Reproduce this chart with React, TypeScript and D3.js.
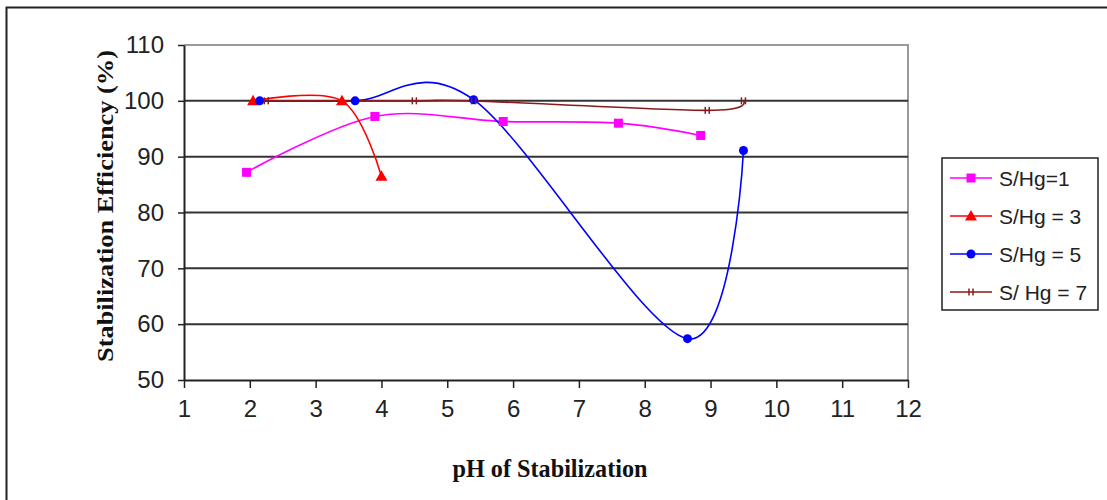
import React, {useEffect, useRef} from "react";
import * as d3 from "d3";

// S/Hg = 1
const ph1 = [1.95, 3.9, 5.85, 7.6, 8.85];
const eff1 = [87.2, 97.2, 96.3, 96.0, 93.8];
// S/Hg = 3
const ph3 = [2.05, 3.4, 4.0];
const eff3 = [100, 100, 86.5];
// S/Hg = 5
const ph5 = [2.15, 3.6, 5.4, 8.65, 9.5];
const eff5 = [100, 100, 100.2, 57.4, 91.1];
// S/Hg = 7
const ph7 = [2.25, 4.5, 5.4, 8.95, 9.5];
const eff7 = [100, 100, 100, 98.3, 100];

const seriesNames = ["S/Hg=1", "S/Hg = 3", "S/Hg = 5", "S/ Hg = 7"];
const seriesColors = ["#ff00ff", "#ff0000", "#0000ff", "#8b1a1a"];
const seriesMarkers = ["square", "triangle", "circle", "bars"];

const xTicks = [1, 2, 3, 4, 5, 6, 7, 8, 9, 10, 11, 12];
const yTicks = [50, 60, 70, 80, 90, 100, 110];

const W = 1107;
const H = 500;
const PLOT = {left: 184, right: 908, top: 45, bottom: 380};

function drawMarker(g: any, kind: string, color: string, x: number, y: number) {
  if (kind === "square") {
    g.append("rect").attr("x", x - 4.5).attr("y", y - 4.5).attr("width", 9).attr("height", 9).attr("fill", color);
  } else if (kind === "triangle") {
    g.append("path").attr("d", `M${x},${y - 6}L${x + 6},${y + 4.5}L${x - 6},${y + 4.5}Z`).attr("fill", color);
  } else if (kind === "circle") {
    g.append("circle").attr("cx", x).attr("cy", y).attr("r", 4.5).attr("fill", color);
  } else {
    g.append("line").attr("x1", x - 2).attr("x2", x - 2).attr("y1", y - 3.5).attr("y2", y + 3.5).attr("stroke", color).attr("stroke-width", 1.5);
    g.append("line").attr("x1", x + 2).attr("x2", x + 2).attr("y1", y - 3.5).attr("y2", y + 3.5).attr("stroke", color).attr("stroke-width", 1.5);
  }
}

const Chart = () => {
  const ref = useRef(null);

  useEffect(() => {
    const svg = d3.select(ref.current);
    svg.selectAll("*").remove();

    const x = d3.scaleLinear().domain([1, 12]).range([PLOT.left, PLOT.right]);
    const y = d3.scaleLinear().domain([50, 110]).range([PLOT.bottom, PLOT.top]);

    // outer frame
    svg.append("rect").attr("x", 6.5).attr("y", 7.5).attr("width", W).attr("height", H)
      .attr("fill", "white").attr("stroke", "#222").attr("stroke-width", 2);

    // plot border (top / right)
    svg.append("path")
      .attr("d", `M${PLOT.left},${PLOT.top}H${PLOT.right}V${PLOT.bottom}`)
      .attr("fill", "none").attr("stroke", "#9a9a9a").attr("stroke-width", 2);

    // grid lines
    svg.append("g").selectAll("line")
      .data(yTicks.filter(t => t > 50 && t < 110))
      .join("line")
      .attr("x1", PLOT.left).attr("x2", PLOT.right)
      .attr("y1", d => y(d)).attr("y2", d => y(d))
      .attr("stroke", "#333").attr("stroke-width", 2);

    // y axis
    const yAxis = svg.append("g").attr("transform", `translate(${PLOT.left},0)`)
      .call(d3.axisLeft(y).tickValues(yTicks).tickSize(6).tickPadding(14).tickSizeOuter(0));
    yAxis.select(".domain").attr("stroke", "#222").attr("stroke-width", 2);
    yAxis.selectAll(".tick line").attr("stroke", "#222").attr("stroke-width", 1.5);
    yAxis.selectAll(".tick text")
      .attr("font-family", "'Liberation Sans', Arial, sans-serif")
      .attr("font-size", 24).attr("fill", "#222");

    // x axis
    const xAxis = svg.append("g").attr("transform", `translate(0,${PLOT.bottom})`)
      .call(d3.axisBottom(x).tickValues(xTicks).tickSize(8).tickPadding(12).tickSizeOuter(0));
    xAxis.select(".domain").attr("stroke", "#222").attr("stroke-width", 2);
    xAxis.selectAll(".tick line").attr("stroke", "#222").attr("stroke-width", 1.5);
    xAxis.selectAll(".tick text")
      .attr("font-family", "'Liberation Sans', Arial, sans-serif")
      .attr("font-size", 24).attr("fill", "#222");

    // series
    const all = [
      {xs: ph1, ys: eff1},
      {xs: ph3, ys: eff3},
      {xs: ph5, ys: eff5},
      {xs: ph7, ys: eff7},
    ];
    const lineGen = d3.line<[number, number]>()
      .x(d => x(d[0])).y(d => y(d[1]))
      .curve(d3.curveCardinal.tension(0));

    all.forEach((s, i) => {
      const pts = s.xs.map((v, j) => [v, s.ys[j]] as [number, number]);
      svg.append("path").datum(pts).attr("d", lineGen)
        .attr("fill", "none").attr("stroke", seriesColors[i]).attr("stroke-width", 1.6);
    });
    all.forEach((s, i) => {
      const g = svg.append("g");
      s.xs.forEach((v, j) => drawMarker(g, seriesMarkers[i], seriesColors[i], x(v), y(s.ys[j])));
    });

    // axis titles
    svg.append("text")
      .attr("x", 550).attr("y", 477)
      .attr("text-anchor", "middle")
      .attr("font-family", "'Liberation Serif', 'Times New Roman', serif")
      .attr("font-weight", "bold").attr("font-size", 25)
      .attr("textLength", 195).attr("lengthAdjust", "spacingAndGlyphs")
      .attr("fill", "#111")
      .text("pH of Stabilization");

    svg.append("text")
      .attr("transform", `translate(113,206) rotate(-90)`)
      .attr("text-anchor", "middle")
      .attr("font-family", "'Liberation Serif', 'Times New Roman', serif")
      .attr("font-weight", "bold").attr("font-size", 24)
      .attr("textLength", 312).attr("lengthAdjust", "spacingAndGlyphs")
      .attr("fill", "#111")
      .text("Stabilization Efficiency (%)");

    // legend
    const lg = svg.append("g");
    lg.append("rect").attr("x", 942).attr("y", 158).attr("width", 156).attr("height", 152)
      .attr("fill", "white").attr("stroke", "#222").attr("stroke-width", 1.5);
    seriesNames.forEach((name, i) => {
      const ly = 178 + i * 38;
      lg.append("line").attr("x1", 950).attr("x2", 992).attr("y1", ly).attr("y2", ly)
        .attr("stroke", seriesColors[i]).attr("stroke-width", 1.6);
      drawMarker(lg, seriesMarkers[i], seriesColors[i], 971, ly);
      lg.append("text").attr("x", 999).attr("y", ly + 8)
        .attr("font-family", "'Liberation Sans', Arial, sans-serif")
        .attr("font-size", 21).attr("fill", "#222")
        .text(name);
    });
  }, []);

  return <svg ref={ref} width={W} height={H} style={{position: "absolute", left: 0, top: 0}} />;
};

export default function App() {
  return <Chart />;
}
